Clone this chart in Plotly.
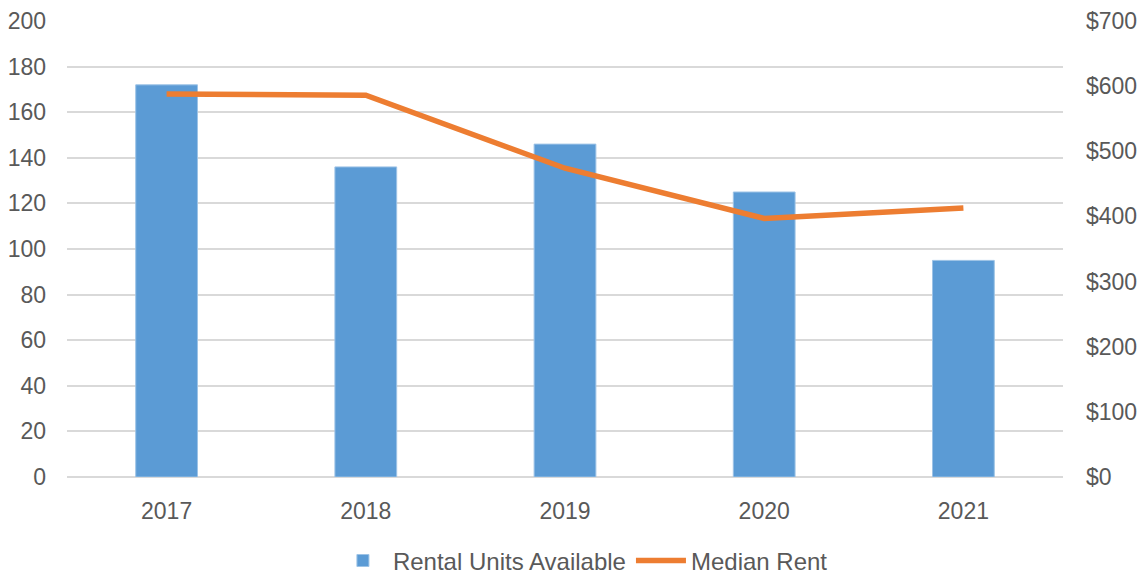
import plotly.graph_objects as go

years = ["2017", "2018", "2019", "2020", "2021"]
units_available = [172, 136, 146, 125, 95]
median_rent = [588, 586, 474, 397, 413]

left_ticks = [0, 20, 40, 60, 80, 100, 120, 140, 160, 180, 200]
right_ticks = [0, 100, 200, 300, 400, 500, 600, 700]
right_labels = ["$" + str(v) for v in right_ticks]

text_color = "#595959"
font_family = "Liberation Sans, Arial, sans-serif"

fig = go.Figure()
fig.add_trace(go.Bar(
    x=years, y=units_available, name="Rental Units Available",
    marker=dict(color="#5B9BD5", line=dict(color="#9DC3E6", width=1)),
    yaxis="y",
))
fig.add_trace(go.Scatter(
    x=years, y=median_rent, name="Median Rent", mode="lines",
    line=dict(color="#ED7D31", width=5.5),
    yaxis="y2",
))

fig.update_layout(
    width=1142, height=575,
    margin=dict(l=67, r=79, t=21, b=98, autoexpand=False),
    paper_bgcolor="white", plot_bgcolor="white",
    font=dict(family=font_family, size=23, color=text_color),
    bargap=0.69,
    showlegend=True,
    legend=dict(orientation="h", x=0.518, xanchor="center", y=-0.184, yanchor="middle",
                font=dict(size=24, color=text_color), itemwidth=50, traceorder="normal"),
    xaxis=dict(showgrid=False, showline=False, ticks="", ticklabelstandoff=18,
               automargin=False, tickfont=dict(size=23, color=text_color)),
    yaxis=dict(range=[0, 200], tickvals=left_ticks, showgrid=True, gridcolor="#D9D9D9",
               gridwidth=1.5, zeroline=True, zerolinecolor="#D9D9D9", zerolinewidth=1.5,
               showline=False, ticks="", ticklabelstandoff=20, automargin=False,
               tickfont=dict(size=23, color=text_color)),
    yaxis2=dict(range=[0, 700], tickvals=right_ticks, ticktext=right_labels,
                overlaying="y", side="right", showgrid=False, zeroline=False,
                showline=False, ticks="", ticklabelstandoff=22, automargin=False,
                tickfont=dict(size=23, color=text_color)),
)

fig.write_html(
    "out.html",
    config={"displayModeBar": False},
    post_script="document.body.style.margin='0';document.body.style.overflow='hidden';",
)
